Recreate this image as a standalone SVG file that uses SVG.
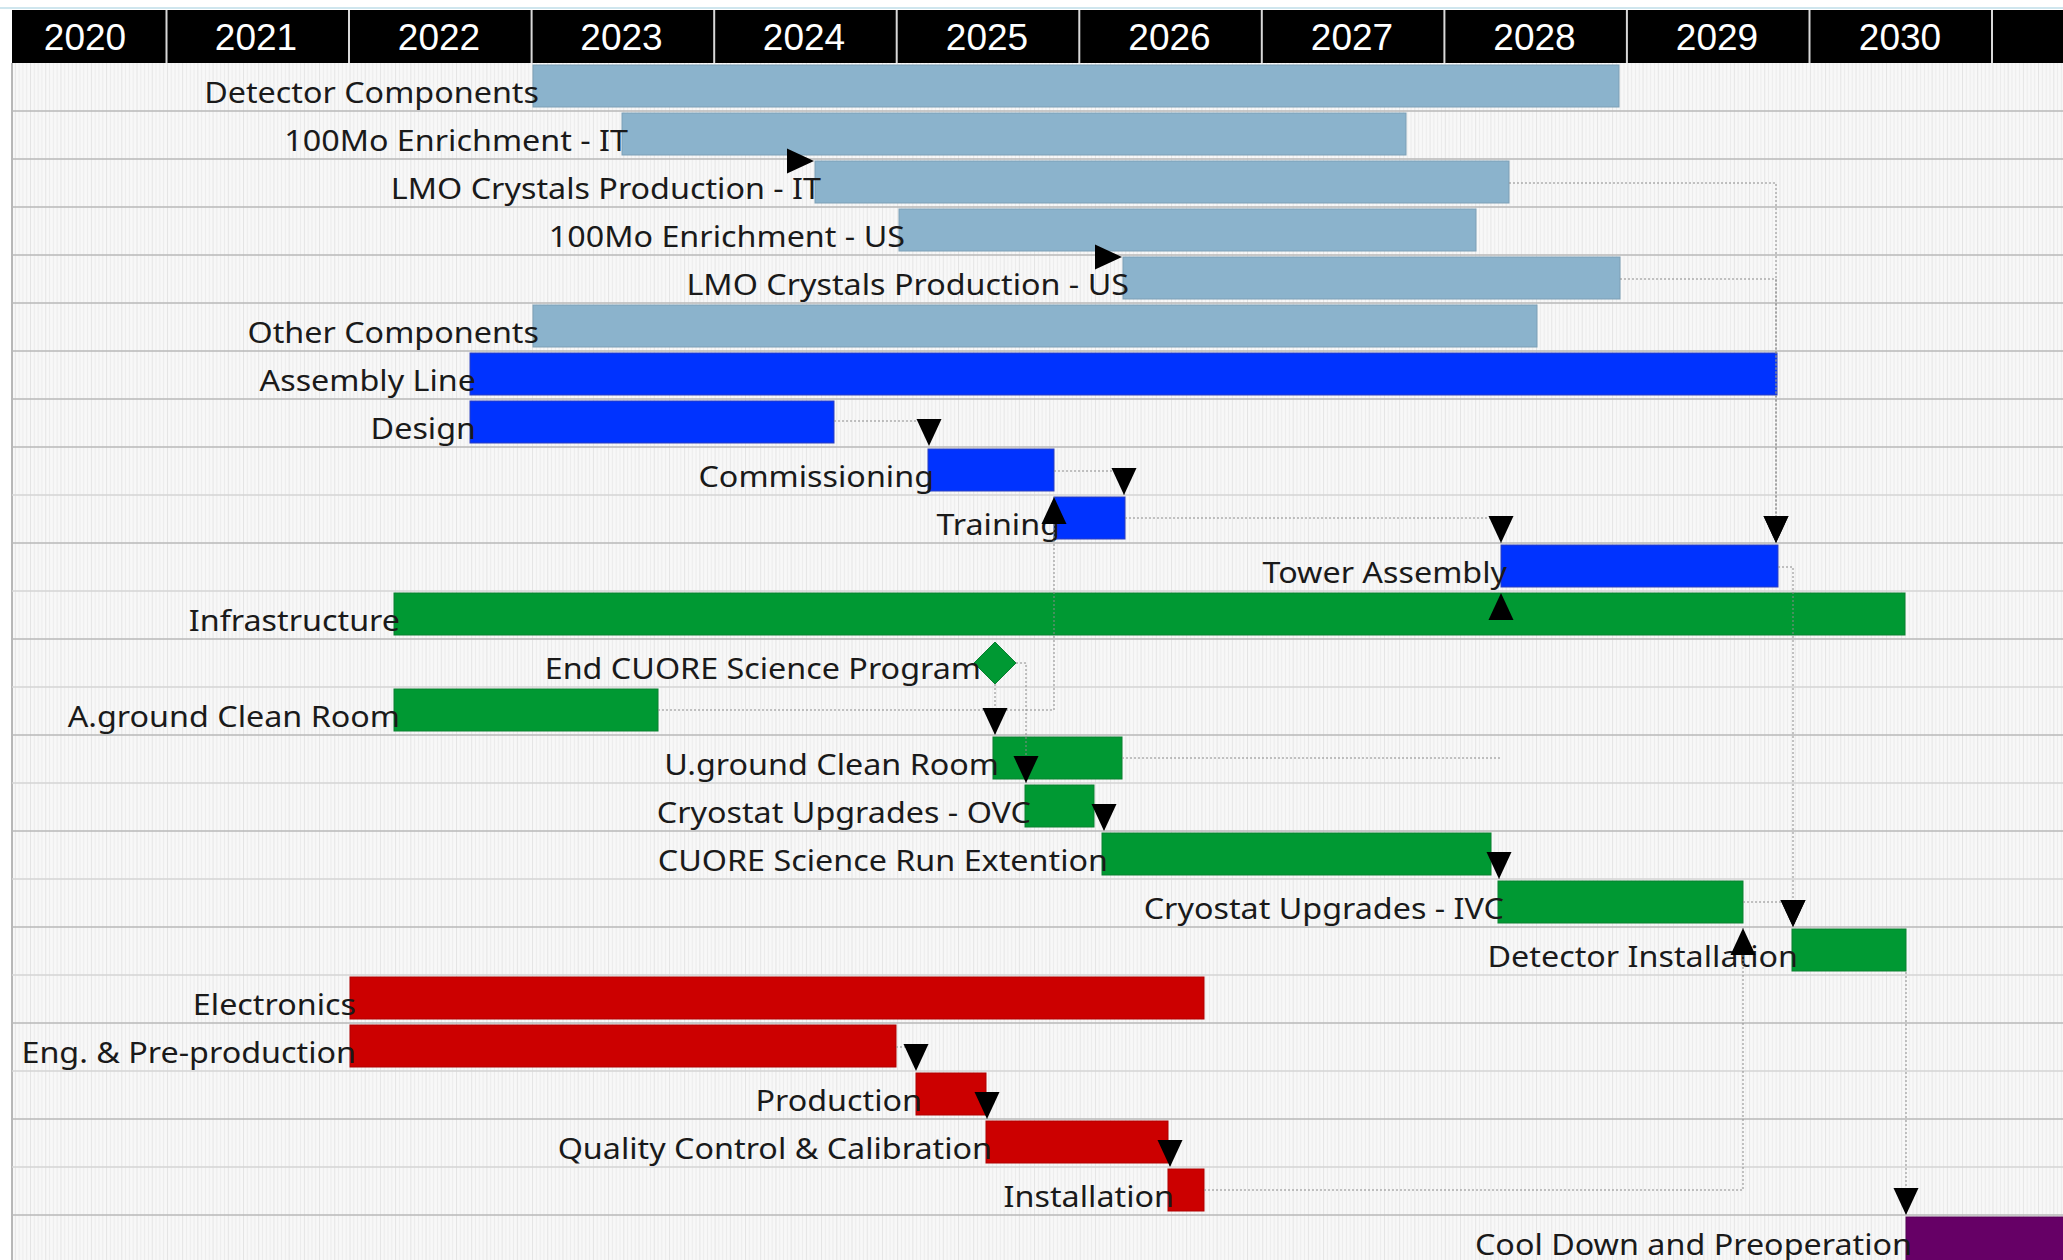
<svg xmlns="http://www.w3.org/2000/svg" width="2063" height="1260" viewBox="0 0 2063 1260">
<defs>
<pattern id="wk" patternUnits="userSpaceOnUse" x="-15.6" y="0" width="15.2125" height="20">
<rect width="15.2125" height="20" fill="#f8f8f8"/>
<rect x="0" width="1" height="20" fill="#e4e4e4"/>
<rect x="3.8" width="1" height="20" fill="#ececec"/>
<rect x="7.6" width="1" height="20" fill="#ececec"/>
<rect x="11.4" width="1" height="20" fill="#ececec"/>
</pattern>
<marker id="ah" markerUnits="userSpaceOnUse" viewBox="-27 -13 27 26" refX="0" refY="0" markerWidth="27" markerHeight="26" orient="auto" overflow="visible">
<path d="M0,0 L-27,-12.5 L-27,12.5 Z" fill="#000"/>
</marker>
</defs>
<style>
.yr{font-family:"Liberation Sans",Arial,sans-serif;font-size:37px;fill:#fff;text-anchor:middle}
.lb{font-family:"Noto Sans","Open Sans",sans-serif;font-size:29.5px;fill:#1a1a1a;text-anchor:end}
.c1{fill:#8bb3cc;stroke:#7c9fb6;stroke-width:1}
.c2{fill:#0033ff;stroke:#2a3fc0;stroke-width:1}
.c3{fill:#009933;stroke:#0a8030;stroke-width:1}
.c4{fill:#cc0000;stroke:#b00000;stroke-width:1}
.c5{fill:#660066;stroke:#550055;stroke-width:1}
.sepA{stroke:#b8b8b8;stroke-width:1.5}
.sepB{stroke:#d4d4d4;stroke-width:1.5}
.cn{fill:none;stroke:#8a8a8a;stroke-width:1;stroke-dasharray:2 2;marker-end:url(#ah)}
.nm{fill:none;stroke:#8a8a8a;stroke-width:1;stroke-dasharray:2 2}
.hid{fill:none;stroke:none;marker-end:url(#ah)}
</style>
<rect width="2063" height="1260" fill="#ffffff"/>
<line x1="0" y1="8" x2="2063" y2="8" stroke="#cfe6ee" stroke-width="2"/>
<rect x="12" y="63" width="2051" height="1197" fill="url(#wk)"/>
<line x1="12" y1="63" x2="12" y2="1260" stroke="#a0a0a0" stroke-width="1.5"/>
<g id="grid">
<line class="sepA" x1="12" y1="111" x2="2063" y2="111"/>
<line class="sepA" x1="12" y1="159" x2="2063" y2="159"/>
<line class="sepA" x1="12" y1="207" x2="2063" y2="207"/>
<line class="sepA" x1="12" y1="255" x2="2063" y2="255"/>
<line class="sepA" x1="12" y1="303" x2="2063" y2="303"/>
<line class="sepA" x1="12" y1="351" x2="2063" y2="351"/>
<line class="sepA" x1="12" y1="399" x2="2063" y2="399"/>
<line class="sepA" x1="12" y1="447" x2="2063" y2="447"/>
<line class="sepB" x1="12" y1="495" x2="2063" y2="495"/>
<line class="sepA" x1="12" y1="543" x2="2063" y2="543"/>
<line class="sepB" x1="12" y1="591" x2="2063" y2="591"/>
<line class="sepA" x1="12" y1="639" x2="2063" y2="639"/>
<line class="sepB" x1="12" y1="687" x2="2063" y2="687"/>
<line class="sepA" x1="12" y1="735" x2="2063" y2="735"/>
<line class="sepB" x1="12" y1="783" x2="2063" y2="783"/>
<line class="sepA" x1="12" y1="831" x2="2063" y2="831"/>
<line class="sepB" x1="12" y1="879" x2="2063" y2="879"/>
<line class="sepA" x1="12" y1="927" x2="2063" y2="927"/>
<line class="sepB" x1="12" y1="975" x2="2063" y2="975"/>
<line class="sepA" x1="12" y1="1023" x2="2063" y2="1023"/>
<line class="sepB" x1="12" y1="1071" x2="2063" y2="1071"/>
<line class="sepA" x1="12" y1="1119" x2="2063" y2="1119"/>
<line class="sepB" x1="12" y1="1167" x2="2063" y2="1167"/>
<line class="sepA" x1="12" y1="1215" x2="2063" y2="1215"/>
</g>
<g id="header">
<rect x="12" y="10" width="2051" height="53" fill="#000"/>
<g stroke="#d8d8d8" stroke-width="2">
<line x1="166.5" y1="10" x2="166.5" y2="63"/>
<line x1="349" y1="10" x2="349" y2="63"/>
<line x1="531.6" y1="10" x2="531.6" y2="63"/>
<line x1="714.2" y1="10" x2="714.2" y2="63"/>
<line x1="896.7" y1="10" x2="896.7" y2="63"/>
<line x1="1079.3" y1="10" x2="1079.3" y2="63"/>
<line x1="1261.8" y1="10" x2="1261.8" y2="63"/>
<line x1="1444.4" y1="10" x2="1444.4" y2="63"/>
<line x1="1626.9" y1="10" x2="1626.9" y2="63"/>
<line x1="1809.5" y1="10" x2="1809.5" y2="63"/>
<line x1="1992" y1="10" x2="1992" y2="63"/>
</g>
<text class="yr" x="85" y="50">2020</text>
<text class="yr" x="256" y="50">2021</text>
<text class="yr" x="439" y="50">2022</text>
<text class="yr" x="621.5" y="50">2023</text>
<text class="yr" x="804" y="50">2024</text>
<text class="yr" x="987" y="50">2025</text>
<text class="yr" x="1169.5" y="50">2026</text>
<text class="yr" x="1352" y="50">2027</text>
<text class="yr" x="1534.5" y="50">2028</text>
<text class="yr" x="1717" y="50">2029</text>
<text class="yr" x="1900" y="50">2030</text>
</g>
<g id="n0"><rect class="c1" x="533" y="65" width="1086" height="42"/><text class="lb" transform="translate(539,102.5) scale(1.095,1)">Detector Components</text></g>
<g id="n1"><rect class="c1" x="622" y="113" width="784" height="42"/><text class="lb" transform="translate(628,150.5) scale(1.095,1)">100Mo Enrichment - IT</text></g>
<g id="n2"><rect class="c1" x="815" y="161" width="694" height="42"/><text class="lb" transform="translate(821,198.5) scale(1.095,1)">LMO Crystals Production - IT</text></g>
<g id="n3"><rect class="c1" x="899" y="209" width="577" height="42"/><text class="lb" transform="translate(905,246.5) scale(1.095,1)">100Mo Enrichment - US</text></g>
<g id="n4"><rect class="c1" x="1123" y="257" width="497" height="42"/><text class="lb" transform="translate(1129,294.5) scale(1.095,1)">LMO Crystals Production - US</text></g>
<g id="n5"><rect class="c1" x="533" y="305" width="1004" height="42"/><text class="lb" transform="translate(539,342.5) scale(1.095,1)">Other Components</text></g>
<g id="n6"><rect class="c2" x="470" y="353" width="1307" height="42"/><text class="lb" transform="translate(476,390.5) scale(1.095,1)">Assembly Line</text></g>
<g id="n7"><rect class="c2" x="470" y="401" width="364" height="42"/><text class="lb" transform="translate(476,438.5) scale(1.095,1)">Design</text></g>
<g id="n8"><rect class="c2" x="928" y="449" width="126" height="42"/><text class="lb" transform="translate(934,486.5) scale(1.095,1)">Commissioning</text></g>
<g id="n9"><rect class="c2" x="1054" y="497" width="71" height="42"/><text class="lb" transform="translate(1060,534.5) scale(1.095,1)">Training</text></g>
<g id="n10"><rect class="c2" x="1501" y="545" width="277" height="42"/><text class="lb" transform="translate(1507,582.5) scale(1.095,1)">Tower Assembly</text></g>
<g id="n11"><rect class="c3" x="394" y="593" width="1511" height="42"/><text class="lb" transform="translate(400,630.5) scale(1.095,1)">Infrastructure</text></g>
<g id="n12"><path class="c3" d="M995,642 L1016,663 L995,684 L974,663 Z"/><text class="lb" transform="translate(981,678.5) scale(1.095,1)">End CUORE Science Program</text></g>
<g id="n13"><rect class="c3" x="394" y="689" width="264" height="42"/><text class="lb" transform="translate(400,726.5) scale(1.095,1)">A.ground Clean Room</text></g>
<g id="n14"><rect class="c3" x="993" y="737" width="129" height="42"/><text class="lb" transform="translate(999,774.5) scale(1.095,1)">U.ground Clean Room</text></g>
<g id="n15"><rect class="c3" x="1025" y="785" width="69" height="42"/><text class="lb" transform="translate(1031,822.5) scale(1.095,1)">Cryostat Upgrades - OVC</text></g>
<g id="n16"><rect class="c3" x="1102" y="833" width="389" height="42"/><text class="lb" transform="translate(1108,870.5) scale(1.095,1)">CUORE Science Run Extention</text></g>
<g id="n17"><rect class="c3" x="1498" y="881" width="245" height="42"/><text class="lb" transform="translate(1504,918.5) scale(1.095,1)">Cryostat Upgrades - IVC</text></g>
<g id="n18"><rect class="c3" x="1792" y="929" width="114" height="42"/><text class="lb" transform="translate(1798,966.5) scale(1.095,1)">Detector Installation</text></g>
<g id="n19"><rect class="c4" x="350" y="977" width="854" height="42"/><text class="lb" transform="translate(356,1014.5) scale(1.095,1)">Electronics</text></g>
<g id="n20"><rect class="c4" x="350" y="1025" width="546" height="42"/><text class="lb" transform="translate(356,1062.5) scale(1.095,1)">Eng. &amp; Pre-production</text></g>
<g id="n21"><rect class="c4" x="916" y="1073" width="70" height="42"/><text class="lb" transform="translate(922,1110.5) scale(1.095,1)">Production</text></g>
<g id="n22"><rect class="c4" x="986" y="1121" width="182" height="42"/><text class="lb" transform="translate(992,1158.5) scale(1.095,1)">Quality Control &amp; Calibration</text></g>
<g id="n23"><rect class="c4" x="1168" y="1169" width="36" height="42"/><text class="lb" transform="translate(1174,1206.5) scale(1.095,1)">Installation</text></g>
<g id="n24"><rect class="c5" x="1906" y="1217" width="160" height="45"/><text class="lb" transform="translate(1912,1254.5) scale(1.095,1)">Cool Down and Preoperation</text></g>
<g id="connectors">
<path class="cn" d="M790,161 H814"/>
<path class="cn" d="M1098,257 H1122"/>
<path class="cn" d="M1509,183 H1776 V543"/>
<path class="cn" d="M1620,279 H1776 V543"/>
<path class="cn" d="M834,421 H929 V446"/>
<path class="cn" d="M1054,471 H1124 V495"/>
<path class="cn" d="M1125,518 H1501 V543"/>
<path class="cn" d="M658,710 H1054 V497"/>
<path class="cn" d="M995,684 V735"/>
<path class="cn" d="M1016,663 H1026 V783"/>
<path class="nm" d="M1122,758 H1501"/>
<path class="hid" d="M1501,625 V593"/>
<path class="cn" d="M1094,806 H1104 V831"/>
<path class="cn" d="M1491,854 H1499 V879"/>
<path class="cn" d="M1743,902 H1793 V927"/>
<path class="cn" d="M1778,567 H1793 V927"/>
<path class="cn" d="M1204,1190 H1743 V928"/>
<path class="cn" d="M1906,972 V1215"/>
<path class="cn" d="M896,1047 H916 V1071"/>
<path class="cn" d="M986,1095 H987 V1119"/>
<path class="cn" d="M1168,1142 H1170 V1167"/>
</g>
</svg>
